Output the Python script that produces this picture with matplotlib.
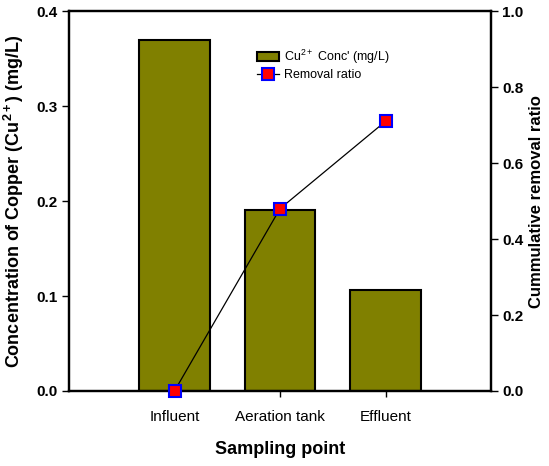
import numpy as np
import matplotlib.pyplot as plt
from matplotlib.lines import Line2D
from matplotlib.patches import Patch

plt.rcParams['font.family'] = ['Liberation Sans', 'DejaVu Sans']
plt.rcParams['mathtext.default'] = 'regular'

# data
sites = ['Influent', 'Aeration tank', 'Effluent']
cu_conc = [0.37, 0.191, 0.106]          # mg/L
removal_ratio = [0.0, 0.48, 0.71]

x = np.arange(1, len(sites) + 1)

fig = plt.figure(figsize=(5.49, 4.66), dpi=100)
ax = fig.add_axes([0.1257, 0.161, 0.7687, 0.815])

ax.bar(x, cu_conc, width=0.667, color='#808000', edgecolor='black', linewidth=1.5, zorder=2)
ax.set_xlim(0, 4)
ax.set_ylim(0, 0.4)
ax.set_yticks([0.0, 0.1, 0.2, 0.3, 0.4])
ax.set_yticklabels(['0.0', '0.1', '0.2', '0.3', '0.4'], fontweight='bold', fontsize=11)
ax.set_xticks(x)
ax.set_xticklabels(sites, fontsize=11)
ax.tick_params(axis='both', direction='out', width=1, length=5, pad=3)
ax.tick_params(axis='x', length=4, pad=10)
for s in ax.spines.values():
    s.set_linewidth(1.6)
ax.set_ylabel('Concentration of Copper (Cu$^{2+}$) (mg/L)', fontsize=13, fontweight='bold', labelpad=8)
ax.set_xlabel('Sampling point', fontsize=13, fontweight='bold', labelpad=12)

ax2 = ax.twinx()
ax2.plot(x, removal_ratio, color='black', linewidth=0.9, marker='s', markersize=9,
         markerfacecolor='red', markeredgecolor='blue', markeredgewidth=1.5, zorder=5, clip_on=False)
ax2.set_ylim(0, 1.0)
ax2.set_yticks([0.0, 0.2, 0.4, 0.6, 0.8, 1.0])
ax2.set_yticklabels(['0.0', '0.2', '0.4', '0.6', '0.8', '1.0'], fontweight='bold', fontsize=11)
ax2.tick_params(axis='y', direction='out', width=1, length=5, pad=3)
for s in ax2.spines.values():
    s.set_linewidth(1.6)
ax2.set_ylabel('Cummulative removal ratio', fontsize=12, fontweight='bold', labelpad=4)

handles = [Patch(facecolor='#808000', edgecolor='black', linewidth=1.5),
           Line2D([], [], color='black', linewidth=0.9, marker='s', markersize=9,
                  markerfacecolor='red', markeredgecolor='blue', markeredgewidth=1.5)]
ax2.legend(handles, ["Cu$^{2+}$ Conc' (mg/L)", 'Removal ratio'], loc='upper left',
           bbox_to_anchor=(0.43, 0.92), frameon=False, fontsize=9,
           handlelength=1.8, handletextpad=0.4, labelspacing=0.25, borderpad=0)

fig.savefig('out.png', dpi=100)
